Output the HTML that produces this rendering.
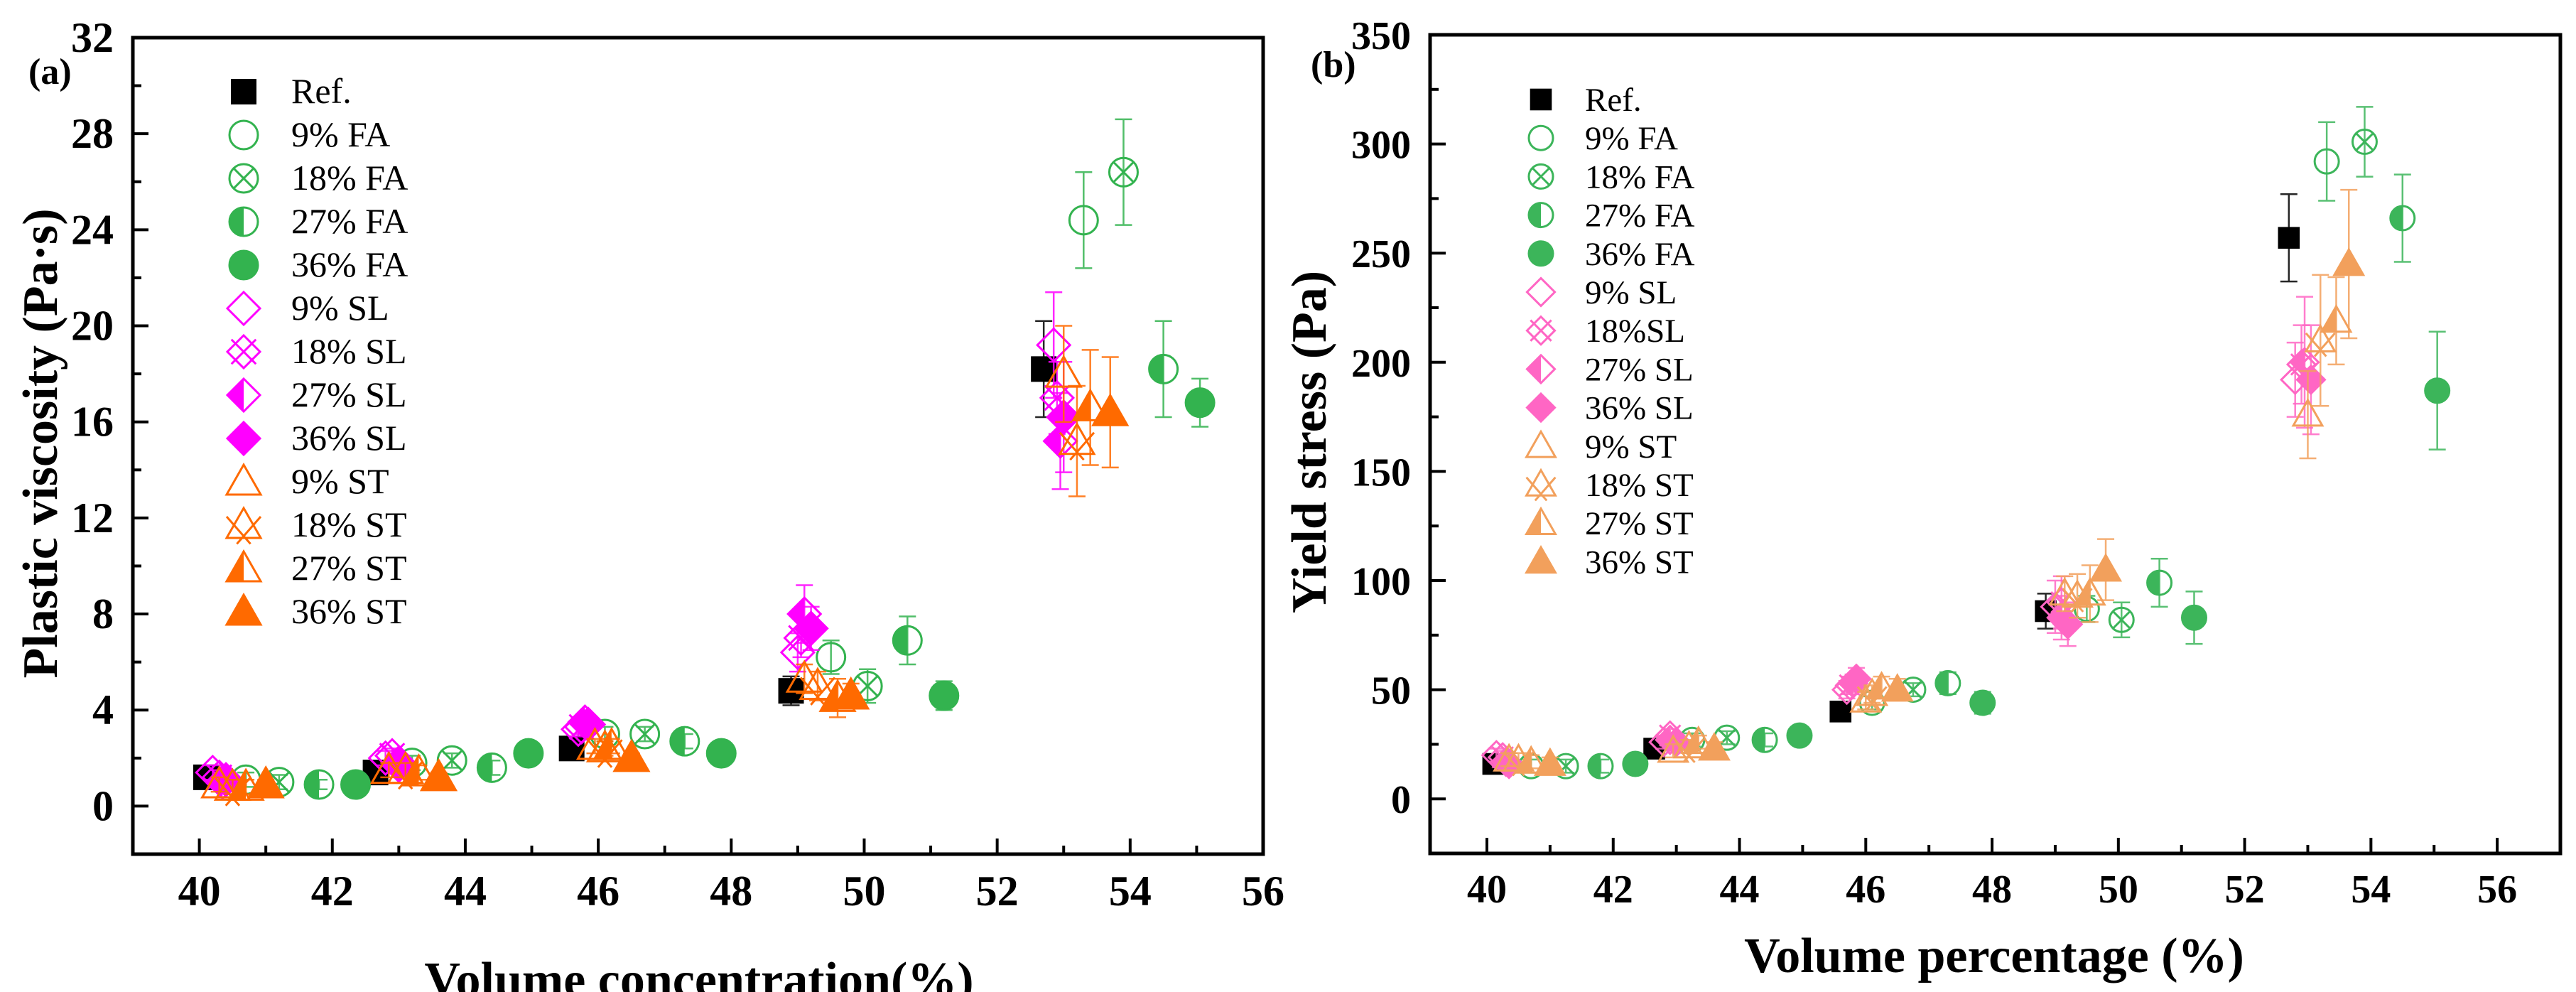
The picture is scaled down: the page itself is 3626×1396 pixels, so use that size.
<!DOCTYPE html>
<html><head><meta charset="utf-8"><style>
html,body{margin:0;padding:0;background:#fff;}
svg{display:block;}
text{font-family:"Liberation Serif","Times New Roman",serif;}
</style></head><body>
<svg id="fig" width="3626" height="1396" viewBox="0 0 3626 1396" xmlns="http://www.w3.org/2000/svg"></svg>
<script>
// ---------- Panel (a): plastic viscosity ----------
const aTicksX = [40,42,44,46,48,50,52,54,56];
const aTicksY = [0,4,8,12,16,20,24,28,32];
const aNames = ["Ref.","9% FA","18% FA","27% FA","36% FA","9% SL","18% SL","27% SL","36% SL","9% ST","18% ST","27% ST","36% ST"];
const a_ref_x=[40.1,42.65,45.6,48.9,52.7];   const a_ref_y=[1.2,1.4,2.4,4.8,18.2];  const a_ref_e=[0.3,0.3,0.3,0.6,2.0];
const a_fa9_x=[40.7,43.2,46.1,49.5,53.3];    const a_fa9_y=[1.1,1.8,3.0,6.2,24.4];  const a_fa9_e=[0.3,0.3,0.3,0.7,2.0];
const a_fa18_x=[41.2,43.8,46.7,50.05,53.9];  const a_fa18_y=[1.0,1.9,3.0,5.0,26.4]; const a_fa18_e=[0.3,0.3,0.3,0.7,2.2];
const a_fa27_x=[41.8,44.4,47.3,50.65,54.5];  const a_fa27_y=[0.9,1.6,2.7,6.9,18.2]; const a_fa27_e=[0.2,0.3,0.3,1.0,2.0];
const a_fa36_x=[42.35,44.95,47.85,51.2,55.05]; const a_fa36_y=[0.9,2.2,2.2,4.6,16.8]; const a_fa36_e=[0.2,0.2,0.2,0.6,1.0];
const a_sl9_x=[40.2,42.8,45.7,49.0,52.85];   const a_sl9_y=[1.4,2.0,3.2,6.4,19.2];  const a_sl9_e=[0.3,0.3,0.3,0.8,2.2];
const a_sl18_x=[40.3,42.9,45.75,49.05,52.9]; const a_sl18_y=[1.2,2.1,3.3,7.0,17.0]; const a_sl18_e=[0.3,0.3,0.3,0.8,1.5];
const a_sl27_x=[40.35,43.0,45.8,49.1,52.95]; const a_sl27_y=[1.0,1.8,3.5,8.0,15.2]; const a_sl27_e=[0.3,0.3,0.3,1.2,2.0];
const a_sl36_x=[40.4,43.0,45.85,49.2,53.0];  const a_sl36_y=[1.1,1.7,3.4,7.4,16.2]; const a_sl36_e=[0.3,0.3,0.3,0.9,2.3];
const a_st9_x=[40.3,42.85,45.95,49.1,53.0];  const a_st9_y=[0.9,1.5,2.5,5.3,18.0];  const a_st9_e=[0.3,0.3,0.3,0.6,2.0];
const a_st18_x=[40.5,43.1,46.1,49.3,53.2];   const a_st18_y=[0.8,1.5,2.4,5.0,15.2]; const a_st18_e=[0.3,0.3,0.3,0.6,2.3];
const a_st27_x=[40.7,43.3,46.2,49.6,53.4];   const a_st27_y=[0.8,1.4,2.5,4.5,16.6]; const a_st27_e=[0.3,0.3,0.3,0.8,2.4];
const a_st36_x=[41.0,43.6,46.5,49.8,53.7];   const a_st36_y=[0.9,1.2,2.0,4.6,16.4]; const a_st36_e=[0.2,0.2,0.2,0.5,2.3];

// ---------- Panel (b): yield stress ----------
const bTicksX = [40,42,44,46,48,50,52,54,56];
const bTicksY = [0,50,100,150,200,250,300,350];
const bNames = ["Ref.","9% FA","18% FA","27% FA","36% FA","9% SL","18%SL","27% SL","36% SL","9% ST","18% ST","27% ST","36% ST"];
const b_ref_x=[40.1,42.65,45.6,48.85,52.7];  const b_ref_y=[16,23,40,86,257];  const b_ref_e=[3,3,3,8,20];
const b_fa9_x=[40.7,43.25,46.1,49.5,53.3];   const b_fa9_y=[15,27,44,87,292];  const b_fa9_e=[3,3,3,6,18];
const b_fa18_x=[41.25,43.8,46.75,50.05,53.9]; const b_fa18_y=[15,28,50,82,301]; const b_fa18_e=[3,3,3,8,16];
const b_fa27_x=[41.8,44.4,47.3,50.65,54.5];  const b_fa27_y=[15,27,53,99,266]; const b_fa27_e=[3,3,5,11,20];
const b_fa36_x=[42.35,44.95,47.85,51.2,55.05]; const b_fa36_y=[16,29,44,83,187]; const b_fa36_e=[3,3,5,12,27];
const b_sl9_x=[40.15,42.8,45.7,49.0,52.8];   const b_sl9_y=[20,26,50,88,192];  const b_sl9_e=[3,3,4,12,17];
const b_sl18_x=[40.25,42.9,45.75,49.1,52.9]; const b_sl18_y=[19,29,52,90,199]; const b_sl18_e=[3,3,4,12,18];
const b_sl27_x=[40.3,42.9,45.8,49.1,52.95];  const b_sl27_y=[17,27,53,83,200]; const b_sl27_e=[3,3,4,10,30];
const b_sl36_x=[40.35,43.0,45.85,49.2,53.05]; const b_sl36_y=[16,26,55,80,192]; const b_sl36_e=[3,3,5,10,25];
const b_st9_x=[40.35,42.95,46.0,49.15,53.0]; const b_st9_y=[18,22,45,94,176];  const b_st9_e=[3,3,4,8,20];
const b_st18_x=[40.5,43.2,46.1,49.35,53.2];  const b_st18_y=[18,24,48,93,210]; const b_st18_e=[3,3,4,10,30];
const b_st27_x=[40.7,43.35,46.25,49.55,53.45]; const b_st27_y=[17,26,51,94,219]; const b_st27_e=[3,3,5,13,20];
const b_st36_x=[41.0,43.6,46.5,49.8,53.65];  const b_st36_y=[16,23,50,105,245]; const b_st36_e=[3,3,5,14,34];

const NS = "http://www.w3.org/2000/svg";
const svg = document.getElementById("fig");
function el(tag, attrs, parent){
  const e = document.createElementNS(NS, tag);
  for (const k in attrs) e.setAttribute(k, attrs[k]);
  (parent||svg).appendChild(e);
  return e;
}

function marker(g, type, cx, cy, s, col){
  const r = s/2;
  const sw = 3;
  if (type==="sq"){ el("rect",{x:cx-r*0.9,y:cy-r*0.9,width:r*1.8,height:r*1.8,fill:col},g); return; }
  if (type.startsWith("c")){
    if (type==="cH"){ el("path",{d:`M${cx},${cy-r} A${r},${r} 0 0 0 ${cx},${cy+r} Z`,fill:col},g); }
    el("circle",{cx:cx,cy:cy,r:r,fill:type==="cF"?col:"none",stroke:col,"stroke-width":sw},g);
    if (type==="cX"){ const d=r*0.72; el("path",{d:`M${cx-d},${cy-d}L${cx+d},${cy+d}M${cx+d},${cy-d}L${cx-d},${cy+d}`,stroke:col,"stroke-width":sw},g); }
    return;
  }
  if (type.startsWith("d")){
    const R = r*1.15;
    const p = `M${cx},${cy-R}L${cx+R},${cy}L${cx},${cy+R}L${cx-R},${cy}Z`;
    if (type==="dH"){ el("path",{d:`M${cx},${cy-R}L${cx-R},${cy}L${cx},${cy+R}Z`,fill:col},g); }
    el("path",{d:p,fill:type==="dF"?col:"none",stroke:col,"stroke-width":sw},g);
    if (type==="dX"){ el("path",{d:`M${cx-R*0.75},${cy-R*0.75}L${cx+R*0.75},${cy+R*0.75}M${cx+R*0.75},${cy-R*0.75}L${cx-R*0.75},${cy+R*0.75}`,stroke:col,"stroke-width":sw},g); }
    return;
  }
  if (type.startsWith("t")){
    const R = r*1.2;
    const p = `M${cx},${cy-R}L${cx+R},${cy+R*0.75}L${cx-R},${cy+R*0.75}Z`;
    if (type==="tH"){ el("path",{d:`M${cx},${cy-R}L${cx},${cy+R*0.75}L${cx-R},${cy+R*0.75}Z`,fill:col},g); }
    el("path",{d:p,fill:type==="tF"?col:"none",stroke:col,"stroke-width":sw,"stroke-linejoin":"miter"},g);
    if (type==="tX"){ el("path",{d:`M${cx-R},${cy-R*0.5}L${cx+R*0.4},${cy+R*1.1}M${cx+R},${cy-R*0.5}L${cx-R*0.4},${cy+R*1.1}`,stroke:col,"stroke-width":sw},g); }
  }
}

const types = ["sq","cO","cX","cH","cF","dO","dX","dH","dF","tO","tX","tH","tF"];

function panel(cfg){
  const {L,R,T,B,x0,x1,y0,y1} = cfg;
  const sx = v => L + (v-x0)/(x1-x0)*(R-L);
  const sy = v => B - (v-y0)/(y1-y0)*(B-T);
  const g = el("g",{});
  
  
  for (let v=cfg.xMinorStart; v<=x1; v+=cfg.xMinor){
    const major = cfg.ticksX.includes(Math.round(v*100)/100);
    const t = el("line",{x1:sx(v),x2:sx(v),y1:B,y2:B-(major?22:12),stroke:"#000","stroke-width":4},g);
    
    
  }
  cfg.ticksX.forEach(v=>{
    const t = el("text",{x:sx(v),y:cfg.xLabY,"text-anchor":"middle","font-size":cfg.tickFs,"font-weight":"bold",fill:"#000"},g);
    t.textContent = v;
    
    
  });
  for (let v=cfg.yMinorStart; v<=y1+1e-9; v+=cfg.yMinor){
    const major = cfg.ticksY.includes(Math.round(v*100)/100);
    const t = el("line",{x1:L,x2:L+(major?22:12),y1:sy(v),y2:sy(v),stroke:"#000","stroke-width":4},g);
    
    
  }
  cfg.ticksY.forEach(v=>{
    const t = el("text",{x:cfg.yLabX,y:sy(v)+20,"text-anchor":"end","font-size":cfg.tickFs,"font-weight":"bold",fill:"#000"},g);
    t.textContent = v;
    
    
  });
  cfg.series.forEach((s,i)=>{
    const sg = el("g",{},g);
    
    
    s.x.forEach((xv,j)=>{
      const cx = sx(xv), cy = sy(s.y[j]);
      const e = s.e[j];
      const ya = sy(s.y[j]+e), yb = sy(s.y[j]-e);
      const eb = el("path",{d:`M${cx},${ya}L${cx},${yb}M${cx-12},${ya}L${cx+12},${ya}M${cx-12},${yb}L${cx+12},${yb}`,stroke:s.c,"stroke-width":2.5,fill:"none",opacity:0.85},sg);
      
      
      const mg = el("g",{},sg);
      
      
      marker(mg, types[i], cx, cy, cfg.ms, s.c);
    });
  });
  const fr = el("rect",{x:L,y:T,width:R-L,height:B-T,fill:"none",stroke:"#000","stroke-width":5},g);
  
  
  const lg = el("g",{},g);
  
  
  cfg.names.forEach((n,i)=>{
    const y = cfg.legY + i*cfg.legDy;
    const eg = el("g",{},lg);
    
    
    marker(eg, types[i], cfg.legMX, y, cfg.ms, cfg.series[i].c);
    const t = el("text",{x:cfg.legTX,y:y+16,"font-size":cfg.legFs,fill:"#000"},eg);
    t.textContent = n;
  });
  const xt = el("text",{x:cfg.xtX,y:cfg.xtY,"text-anchor":"middle","font-size":cfg.titleFs,"font-weight":"bold",fill:"#000"},g);
  xt.textContent = cfg.xTitle;
  
  
  const yt = el("text",{x:0,y:0,"text-anchor":"middle","font-size":cfg.titleFs,"font-weight":"bold",fill:"#000",transform:`translate(${cfg.ytX},${cfg.ytY}) rotate(-90)`},g);
  yt.textContent = cfg.yTitle;
  
  
  const pl = el("text",{x:cfg.plX,y:cfg.plY,"font-size":52,"font-weight":"bold",fill:"#000"},g);
  pl.textContent = cfg.panelLabel;
  
  
}

const GA="#33b34f", MA="#ff00ff", OA="#ff6a00";
const GB="#3cb55a", PB="#ff66c4", OB="#f2a05c";

panel({name:"plastic-viscosity-chart",L:187,R:1778,T:53,B:1202,x0:39,x1:56,y0:-2,y1:32,
  ticksX:aTicksX,ticksY:aTicksY,xMinorStart:40,xMinor:1,yMinorStart:0,yMinor:2,
  xLabY:1274,yLabX:160,ms:40,tickFs:60,titleFs:70,names:aNames,
  legY:129,legDy:61,legMX:343,legTX:410,legFs:50,
  xTitle:"Volume concentration(%)",xtX:984,xtY:1402,
  yTitle:"Plastic viscosity (Pa·s)",ytX:80,ytY:624,
  panelLabel:"(a)",plX:40,plY:118,
  series:[
    {x:a_ref_x,y:a_ref_y,e:a_ref_e,c:"#000"},
    {x:a_fa9_x,y:a_fa9_y,e:a_fa9_e,c:GA},
    {x:a_fa18_x,y:a_fa18_y,e:a_fa18_e,c:GA},
    {x:a_fa27_x,y:a_fa27_y,e:a_fa27_e,c:GA},
    {x:a_fa36_x,y:a_fa36_y,e:a_fa36_e,c:GA},
    {x:a_sl9_x,y:a_sl9_y,e:a_sl9_e,c:MA},
    {x:a_sl18_x,y:a_sl18_y,e:a_sl18_e,c:MA},
    {x:a_sl27_x,y:a_sl27_y,e:a_sl27_e,c:MA},
    {x:a_sl36_x,y:a_sl36_y,e:a_sl36_e,c:MA},
    {x:a_st9_x,y:a_st9_y,e:a_st9_e,c:OA},
    {x:a_st18_x,y:a_st18_y,e:a_st18_e,c:OA},
    {x:a_st27_x,y:a_st27_y,e:a_st27_e,c:OA},
    {x:a_st36_x,y:a_st36_y,e:a_st36_e,c:OA}
  ]});

panel({name:"yield-stress-chart",L:2013,R:3604,T:49,B:1201,x0:39.1,x1:57,y0:-25,y1:350,
  ticksX:bTicksX,ticksY:bTicksY,xMinorStart:40,xMinor:1,yMinorStart:0,yMinor:25,
  xLabY:1270,yLabX:1986,ms:34,tickFs:56,titleFs:70,names:bNames,
  legY:140,legDy:54.2,legMX:2169,legTX:2231,legFs:47,
  xTitle:"Volume percentage (%)",xtX:2807,xtY:1368,
  yTitle:"Yield stress (Pa)",ytX:1866,ytY:622,
  panelLabel:"(b)",plX:1845,plY:108,
  series:[
    {x:b_ref_x,y:b_ref_y,e:b_ref_e,c:"#000"},
    {x:b_fa9_x,y:b_fa9_y,e:b_fa9_e,c:GB},
    {x:b_fa18_x,y:b_fa18_y,e:b_fa18_e,c:GB},
    {x:b_fa27_x,y:b_fa27_y,e:b_fa27_e,c:GB},
    {x:b_fa36_x,y:b_fa36_y,e:b_fa36_e,c:GB},
    {x:b_sl9_x,y:b_sl9_y,e:b_sl9_e,c:PB},
    {x:b_sl18_x,y:b_sl18_y,e:b_sl18_e,c:PB},
    {x:b_sl27_x,y:b_sl27_y,e:b_sl27_e,c:PB},
    {x:b_sl36_x,y:b_sl36_y,e:b_sl36_e,c:PB},
    {x:b_st9_x,y:b_st9_y,e:b_st9_e,c:OB},
    {x:b_st18_x,y:b_st18_y,e:b_st18_e,c:OB},
    {x:b_st27_x,y:b_st27_y,e:b_st27_e,c:OB},
    {x:b_st36_x,y:b_st36_y,e:b_st36_e,c:OB}
  ]});
</script>
</body></html>
